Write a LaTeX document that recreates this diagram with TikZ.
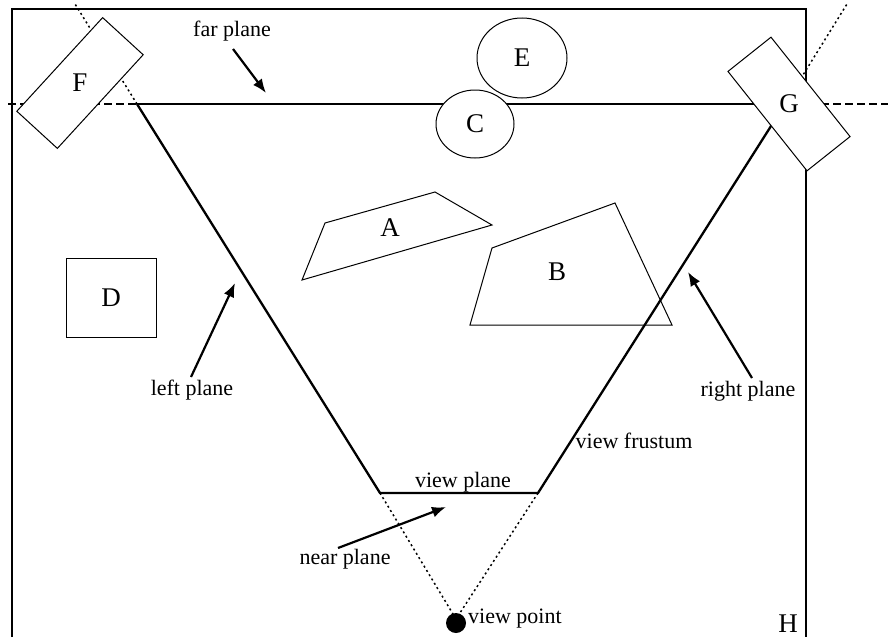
\documentclass[tikz,border=0pt]{standalone}
\usepackage{fontspec}
\setmainfont{Liberation Serif}
\usetikzlibrary{shapes.geometric,arrows.meta}
\begin{document}
\begin{tikzpicture}[x=1pt,y=-1pt,
  plane/.style={line width=2.3pt},
  ext/.style={line width=1.5pt,dash pattern=on 2pt off 3pt},
  farext/.style={line width=2.3pt,dash pattern=on 8pt off 4pt},
  obj/.style={draw,line width=1pt},
  lbl/.style={font=\fontsize{22}{24}\selectfont,inner sep=0pt},
  letter/.style={font=\fontsize{27}{29}\selectfont,inner sep=0pt},
  pointer/.style={line width=2.2pt,-{Latex[length=14pt,width=11pt]}},
  rotbox/.style={draw,fill=white,line width=1pt,inner sep=0pt,minimum width=127pt,minimum height=55pt}]
\useasboundingbox (0,0) rectangle (888,637);
% frame H
\draw[line width=1.6pt] (12,637) -- (12,9) -- (806,9) -- (806,637);
\node[letter] (H) at (788,624) {H};
% frustum corners
\coordinate (FL) at (137,104);
\coordinate (FR) at (785,104);
\coordinate (NL) at (380,493);
\coordinate (NR) at (538,493);
\coordinate (VP) at (456,619);
\coordinate (LT) at (75,4);
\coordinate (RT) at (847,4);
\coordinate (DL) at (8,104);
\coordinate (DR) at (888,104);
% extensions
\draw[ext] (FL) -- (LT);
\draw[ext] (FR) -- (RT);
\draw[ext] (NL) -- (VP);
\draw[ext] (NR) -- (VP);
\draw[farext] (DL) -- (FL);
\draw[farext] (FR) -- (DR);
% frustum
\draw[plane] (FL) -- (FR);
\draw[plane] (FL) -- (NL) -- (NR) -- (FR);
% objects
\draw[obj] (302,280) -- (325,223) -- (435,192) -- (492,225) -- cycle;
\node[letter] (A) at (390,228) {A};
\draw[obj] (470,325) -- (492,248) -- (615,203) -- (672,325) -- cycle;
\node[letter] (B) at (557,272) {B};
\node[obj,fill=white,ellipse,minimum width=90pt,minimum height=80pt,inner sep=0pt] (E) at (522,58) {};
\node[letter] at (E) {E};
\node[obj,fill=white,ellipse,minimum width=78pt,minimum height=68pt,inner sep=0pt] (C) at (475,124) {};
\node[letter] at (C) {C};
\node[obj,minimum width=90pt,minimum height=79pt,inner sep=0pt] (D) at (111,298) {};
\node[letter] at (D) {D};
\node[rotbox,rotate=47.5] (Fb) at (80,83) {};
\node[letter] (F) at (Fb) {F};
\node[rotbox,rotate=-51.5] (Gb) at (789,104) {};
\node[letter] (G) at (Gb) {G};
% view point
\node[circle,fill=black,minimum size=20pt,inner sep=0pt] (V) at (456,623) {};
\node[lbl,anchor=west] (vp) at (468,619) {view point};
% labels and pointers
\node[lbl] (far) at (232,31) {far plane};
\coordinate (farT) at (266,93);
\draw[pointer] (233,49) -- (farT);
\node[lbl] (left) at (192,390) {left plane};
\coordinate (leftT) at (235,283);
\draw[pointer] (191,377) -- (leftT);
\node[lbl] (right) at (748,391) {right plane};
\coordinate (rightT) at (688,272);
\draw[pointer] (752,378) -- (rightT);
\node[lbl] (near) at (345,559) {near plane};
\coordinate (nearT) at (446,507);
\draw[pointer] (338,548) -- (nearT);
\node[lbl] (vplane) at (463,482) {view plane};
\node[lbl] (vf) at (634,441) {view frustum};
\end{tikzpicture}
\end{document}
